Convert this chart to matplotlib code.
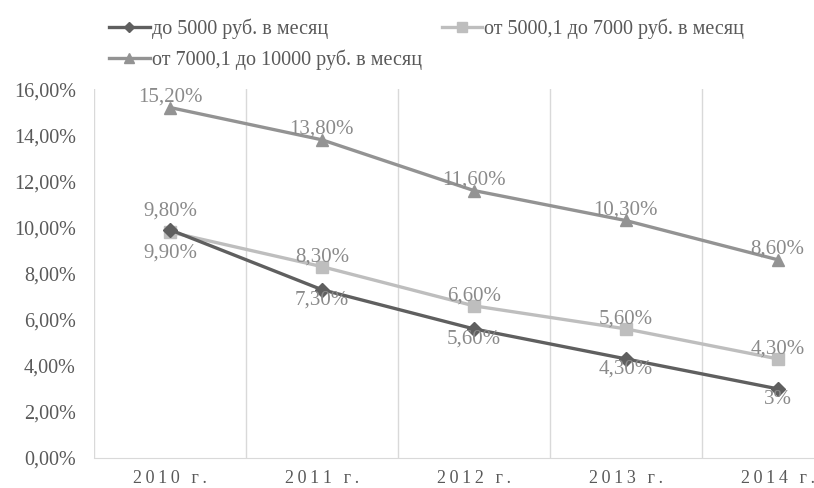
import numpy as np
import matplotlib.pyplot as plt

plt.rcParams['font.family'] = ['Liberation Serif', 'DejaVu Serif']

years = ['2010 г.', '2011 г.', '2012 г.', '2013 г.', '2014 г.']
low = [9.9, 7.3, 5.6, 4.3, 3.0]
mid = [9.8, 8.3, 6.6, 5.6, 4.3]
high = [15.2, 13.8, 11.6, 10.3, 8.6]
low_labels = ['9,90%', '7,30%', '5,60%', '4,30%', '3%']
mid_labels = ['9,80%', '8,30%', '6,60%', '5,60%', '4,30%']
high_labels = ['15,20%', '13,80%', '11,60%', '10,30%', '8,60%']
names = ['до 5000 руб. в месяц', 'от 5000,1 до 7000 руб. в месяц',
         'от 7000,1 до 10000 руб. в месяц']

c_low = '#5f5f5f'
c_mid = '#bebebe'
c_high = '#939393'
c_text = '#8a8a8a'
c_axis = '#595959'

fig = plt.figure(figsize=(8.14, 4.88), dpi=100)
ax = fig.add_axes([0.1155, 0.0615, 0.8845, 0.756])

x = np.arange(len(years))
l1, = ax.plot(x, low, color=c_low, lw=2.4, marker='D', ms=7, label=names[0], zorder=3)
l2, = ax.plot(x, mid, color=c_mid, lw=2.4, marker='s', ms=9, label=names[1], zorder=2)
l3, = ax.plot(x, high, color=c_high, lw=2.4, marker='^', ms=9, label=names[2], zorder=2)

# first point: the two labels overlap, so push them further apart
def dy(i, base):
    return base * 2.2 if i == 0 else base

for i, (xi, v, t) in enumerate(zip(x, low, low_labels)):
    ax.annotate(t, (xi, v), xytext=(0, dy(i, -7.5)), textcoords='offset points',
                ha='center', va='center', fontsize=15, color=c_text, zorder=4)
for i, (xi, v, t) in enumerate(zip(x, mid, mid_labels)):
    ax.annotate(t, (xi, v), xytext=(0, dy(i, 7)), textcoords='offset points',
                ha='center', va='center', fontsize=15, color=c_text, zorder=4)
for xi, v, t in zip(x, high, high_labels):
    ax.annotate(t, (xi, v), xytext=(0, 7.5), textcoords='offset points',
                ha='center', va='center', fontsize=15, color=c_text, zorder=4)

ax.set_yticks(np.arange(0, 17, 2))
ax.set_yticklabels([f'{v:.2f}'.replace('.', ',') + '%' for v in np.arange(0, 17, 2)])
ax.set_xticks(x)
ax.set_xticklabels(['\u2009'.join(y) for y in years])
ax.set_xticks(np.arange(-0.5, 4, 1), minor=True)
ax.set_xlim(-0.5, 4.24)
ax.set_ylim(0, 16)
ax.grid(True, which='minor', axis='x', color='#d9d9d9', lw=1)
ax.tick_params(which='both', length=0)
ax.tick_params(axis='y', labelsize=14.5, labelcolor=c_axis, pad=13)
ax.tick_params(axis='x', labelsize=13, labelcolor=c_axis, pad=9)
for s in ['top', 'right', 'left']:
    ax.spines[s].set_visible(False)
ax.spines['bottom'].set_color('#d9d9d9')

fig.legend(handles=[l1, l3, l2], loc='upper left', bbox_to_anchor=(0.112, 1.0),
           ncol=2, frameon=False, fontsize=14.5, handlelength=2.0, handletextpad=0.1,
           columnspacing=1.0, labelspacing=0.55, markerscale=0.75,
           labelcolor=c_axis)

fig.savefig('out.png', dpi=100)
